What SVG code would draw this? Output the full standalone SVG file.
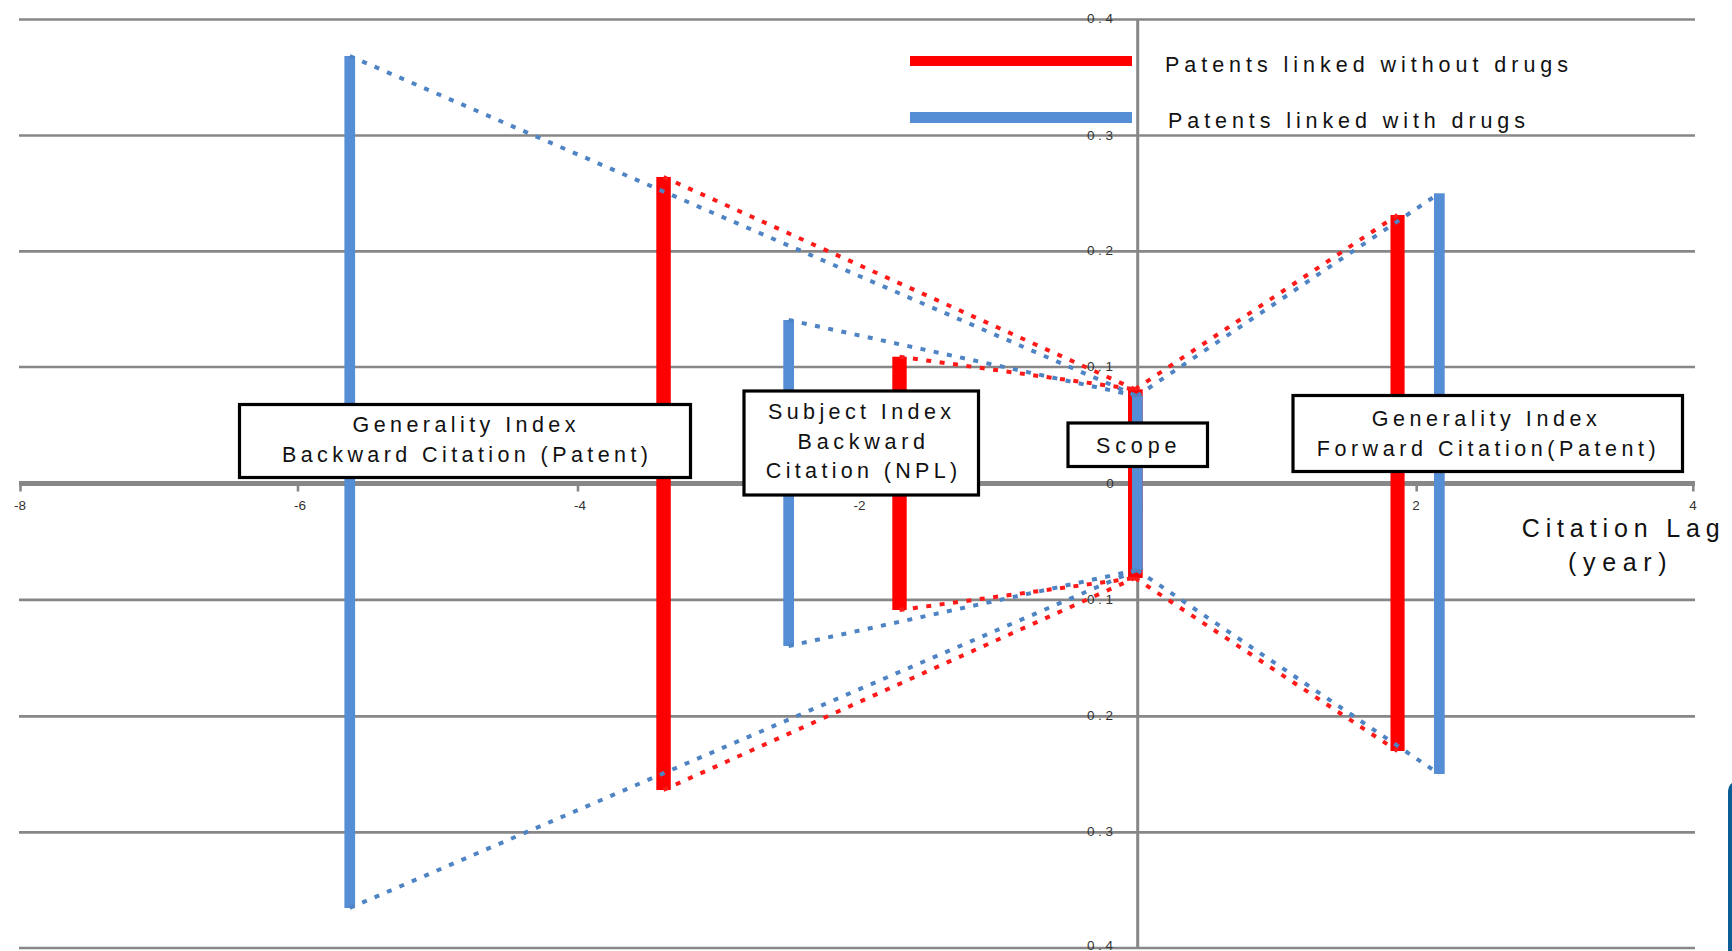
<svg xmlns="http://www.w3.org/2000/svg" width="1732" height="951" viewBox="0 0 1732 951">
<style>
.grid{stroke:#878787;stroke-width:2.7;fill:none}
.axis{stroke:#878787;fill:none}
.bar-b{fill:#558ed5}
.bar-r{fill:#ff0000}
.dot-b{stroke:#4f84c4;stroke-width:4;stroke-dasharray:5 8.5;fill:none}
.dot-r{stroke:#ff1a1a;stroke-width:4;stroke-dasharray:5 8.5;fill:none}
.box{fill:#ffffff;stroke:#000000;stroke-width:3.2}
.t{font-family:"Liberation Sans",Arial,sans-serif;font-size:21.5px;fill:#111111}
.tick{font-family:"Liberation Sans",Arial,sans-serif;font-size:13.5px;fill:#333333}
.big{font-family:"Liberation Sans",Arial,sans-serif;font-size:25px;fill:#111111}
</style>
<rect width="1732" height="951" fill="#ffffff"/>
<g id="grid">
<line class="grid" x1="19" y1="19.5" x2="1695" y2="19.5"/>
<line class="grid" x1="19" y1="135.5" x2="1695" y2="135.5"/>
<line class="grid" x1="19" y1="251.3" x2="1695" y2="251.3"/>
<line class="grid" x1="19" y1="367" x2="1695" y2="367"/>
<line class="grid" x1="19" y1="599.8" x2="1695" y2="599.8"/>
<line class="grid" x1="19" y1="716.3" x2="1695" y2="716.3"/>
<line class="grid" x1="19" y1="832.3" x2="1695" y2="832.3"/>
<line class="grid" x1="19" y1="948" x2="1695" y2="948"/>
</g>
<g id="axes">
<line class="axis" x1="1137.7" y1="19" x2="1137.7" y2="949" stroke-width="3"/>
<line class="axis" x1="19" y1="483.5" x2="1695" y2="483.5" stroke-width="5"/>
<g stroke="#878787" stroke-width="2.6">
<line x1="20.5" y1="483" x2="20.5" y2="491.5"/>
<line x1="298" y1="483" x2="298" y2="491.5"/>
<line x1="578" y1="483" x2="578" y2="491.5"/>
<line x1="858" y1="483" x2="858" y2="491.5"/>
<line x1="1416.7" y1="483" x2="1416.7" y2="491.5"/>
<line x1="1693.3" y1="483" x2="1693.3" y2="491.5"/>
</g>
</g>
<g id="tick-labels" class="tick">
<text x="20" y="510" text-anchor="middle">-8</text>
<text x="300" y="510" text-anchor="middle">-6</text>
<text x="580" y="510" text-anchor="middle">-4</text>
<text x="859.5" y="510" text-anchor="middle">-2</text>
<text x="1139" y="510" text-anchor="middle">0</text>
<text x="1416" y="510" text-anchor="middle">2</text>
<text x="1693" y="510" text-anchor="middle">4</text>
<text x="1100" y="23" text-anchor="middle" textLength="26" lengthAdjust="spacing">0.4</text>
<text x="1100" y="139.5" text-anchor="middle" textLength="26" lengthAdjust="spacing">0.3</text>
<text x="1100" y="255.3" text-anchor="middle" textLength="26" lengthAdjust="spacing">0.2</text>
<text x="1100" y="371" text-anchor="middle" textLength="26" lengthAdjust="spacing">0.1</text>
<text x="1110" y="488" text-anchor="middle">0</text>
<text x="1100" y="603.8" text-anchor="middle" textLength="26" lengthAdjust="spacing">0.1</text>
<text x="1100" y="720.3" text-anchor="middle" textLength="26" lengthAdjust="spacing">0.2</text>
<text x="1100" y="836.3" text-anchor="middle" textLength="26" lengthAdjust="spacing">0.3</text>
<text x="1100" y="950" text-anchor="middle" textLength="26" lengthAdjust="spacing">0.4</text>
</g>
<g id="bars">
<rect class="bar-b" x="344.4" y="56" width="10.7" height="852"/>
<rect class="bar-r" x="656.3" y="177" width="14.5" height="613"/>
<rect class="bar-b" x="783.3" y="320" width="10.7" height="326"/>
<rect class="bar-r" x="892.3" y="356.7" width="14.4" height="253.3"/>
<rect class="bar-r" x="1128" y="389.3" width="14.7" height="188.7"/>
<rect class="bar-b" x="1132" y="396" width="10.7" height="174"/>
<rect class="bar-r" x="1390.5" y="215" width="14.1" height="536"/>
<rect class="bar-b" x="1434" y="193.3" width="10.7" height="580.7"/>
</g>
<g id="connectors">
<line class="dot-b" x1="349.8" y1="56" x2="1137" y2="396"/>
<line class="dot-b" x1="788.6" y1="320" x2="1137" y2="396"/>
<line class="dot-b" x1="1137" y1="396" x2="1439.3" y2="193.3"/>
<line class="dot-b" x1="349.8" y1="908" x2="1137" y2="570"/>
<line class="dot-b" x1="788.6" y1="646" x2="1137" y2="570"/>
<line class="dot-b" x1="1137" y1="570" x2="1439.3" y2="774"/>
<line class="dot-r" x1="663.5" y1="177" x2="1135" y2="389.3"/>
<line class="dot-r" x1="899.5" y1="356.7" x2="1135" y2="389.3"/>
<line class="dot-r" x1="1135" y1="389.3" x2="1397.5" y2="215"/>
<line class="dot-r" x1="663.5" y1="790" x2="1135" y2="578"/>
<line class="dot-r" x1="899.5" y1="610" x2="1135" y2="578"/>
<line class="dot-r" x1="1135" y1="578" x2="1397.5" y2="751"/>
</g>
<g id="legend">
<rect class="bar-r" x="910" y="56" width="222" height="10"/>
<rect class="bar-b" x="910" y="112" width="222" height="11"/>
<text class="t" x="1165" y="71.7" textLength="403" lengthAdjust="spacing">Patents linked without drugs</text>
<text class="t" x="1168" y="127.7" textLength="357" lengthAdjust="spacing">Patents linked with drugs</text>
</g>
<g id="node-generality-backward">
<rect class="box" x="239.5" y="404.5" width="451" height="73"/>
<text class="t" x="352.5" y="432.3" textLength="223" lengthAdjust="spacing">Generality Index</text>
<text class="t" x="282" y="461.7" textLength="366" lengthAdjust="spacing">Backward Citation (Patent)</text>
</g>
<g id="node-subject-index">
<rect class="box" x="744" y="391" width="234.5" height="104"/>
<text class="t" x="768" y="419" textLength="183" lengthAdjust="spacing">Subject Index</text>
<text class="t" x="797.6" y="449" textLength="127.4" lengthAdjust="spacing">Backward</text>
<text class="t" x="765.8" y="478.3" textLength="191.4" lengthAdjust="spacing">Citation (NPL)</text>
</g>
<g id="node-scope">
<rect class="box" x="1068" y="423" width="139.5" height="43.5"/>
<text class="t" x="1096" y="453.3" textLength="80.5" lengthAdjust="spacing">Scope</text>
</g>
<g id="node-generality-forward">
<rect class="box" x="1293" y="395.5" width="389.5" height="76"/>
<text class="t" x="1371.7" y="425.7" textLength="225" lengthAdjust="spacing">Generality Index</text>
<text class="t" x="1316.7" y="456" textLength="339" lengthAdjust="spacing">Forward Citation(Patent)</text>
</g>
<g id="axis-title">
<text class="big" x="1521.7" y="536.7" textLength="198" lengthAdjust="spacing">Citation Lag</text>
<text class="big" x="1568" y="571" textLength="98.7" lengthAdjust="spacing">(year)</text>
</g>
<path d="M1728,951 L1728,791 Q1728.5,785.5 1732,783 L1732,951 Z" fill="#0b5d95"/>
</svg>
